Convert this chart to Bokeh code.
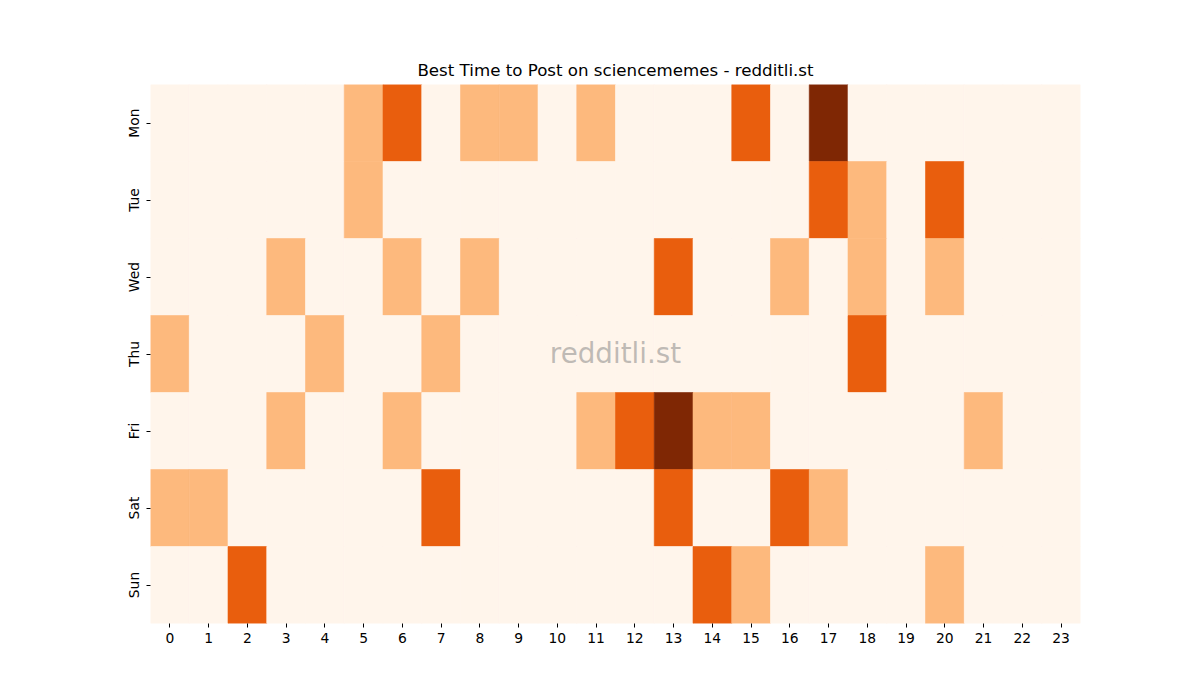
from bokeh.plotting import figure
from bokeh.models import ColumnDataSource, FixedTicker, Label, LinearColorMapper
from bokeh.transform import transform
from bokeh.embed import file_html
from bokeh.resources import INLINE

days = ["Mon", "Tue", "Wed", "Thu", "Fri", "Sat", "Sun"]
hours = list(range(24))

mon = [0, 0, 0, 0, 0, 1, 2, 0, 1, 1, 0, 1, 0, 0, 0, 2, 0, 3, 0, 0, 0, 0, 0, 0]
tue = [0, 0, 0, 0, 0, 1, 0, 0, 0, 0, 0, 0, 0, 0, 0, 0, 0, 2, 1, 0, 2, 0, 0, 0]
wed = [0, 0, 0, 1, 0, 0, 1, 0, 1, 0, 0, 0, 0, 2, 0, 0, 1, 0, 1, 0, 1, 0, 0, 0]
thu = [1, 0, 0, 0, 1, 0, 0, 1, 0, 0, 0, 0, 0, 0, 0, 0, 0, 0, 2, 0, 0, 0, 0, 0]
fri = [0, 0, 0, 1, 0, 0, 1, 0, 0, 0, 0, 1, 2, 3, 1, 1, 0, 0, 0, 0, 0, 1, 0, 0]
sat = [1, 1, 0, 0, 0, 0, 0, 2, 0, 0, 0, 0, 0, 2, 0, 0, 2, 1, 0, 0, 0, 0, 0, 0]
sun = [0, 0, 2, 0, 0, 0, 0, 0, 0, 0, 0, 0, 0, 0, 2, 1, 0, 0, 0, 0, 1, 0, 0, 0]

rows = [mon, tue, wed, thu, fri, sat, sun]

xs, ys, vs = [], [], []
for d, row in zip(days, rows):
    for h, v in zip(hours, row):
        xs.append(h)
        ys.append(d)
        vs.append(v)

source = ColumnDataSource(dict(hour=xs, day=ys, val=vs))

palette = ["#fff5eb", "#fdb97d", "#e95e0d", "#7f2704"]
mapper = LinearColorMapper(palette=palette, low=0, high=3)

p = figure(
    width=1184, height=684,
    x_range=(-0.5, 23.5),
    y_range=list(reversed(days)),
    output_backend="svg",
    toolbar_location=None,
    min_border_left=150, min_border_right=104,
    min_border_top=84, min_border_bottom=61,
    title="Best Time to Post on sciencememes - redditli.st",
)
p.title.align = "center"
p.title.text_font = "DejaVu Sans"
p.title.text_font_size = "16.67px"
p.title.text_font_style = "normal"
p.title.text_color = "#000000"

p.rect(x="hour", y="day", width=1, height=1, source=source,
       fill_color=transform("val", mapper),
       line_color=transform("val", mapper), line_width=0.6)

p.xaxis.ticker = FixedTicker(ticks=hours)
for ax in (p.xaxis[0], p.yaxis[0]):
    ax.axis_line_color = None
    ax.major_tick_in = 0
    ax.major_tick_out = 4
    ax.minor_tick_line_color = None
    ax.major_label_text_font = "DejaVu Sans"
    ax.major_label_text_font_size = "13.89px"
    ax.major_label_text_color = "#000000"
    ax.major_label_standoff = 5
p.yaxis.major_label_orientation = "vertical"
p.xgrid.grid_line_color = None
p.ygrid.grid_line_color = None
p.outline_line_color = None

wm = Label(x=465, y=270, x_units="screen", y_units="screen",
           text="redditli.st", text_align="center", text_baseline="middle",
           text_font="DejaVu Sans", text_font_size="27.78px",
           text_color="gray", text_alpha=0.5)
p.add_layout(wm)

open("out.html", "w").write(file_html(p, INLINE))
